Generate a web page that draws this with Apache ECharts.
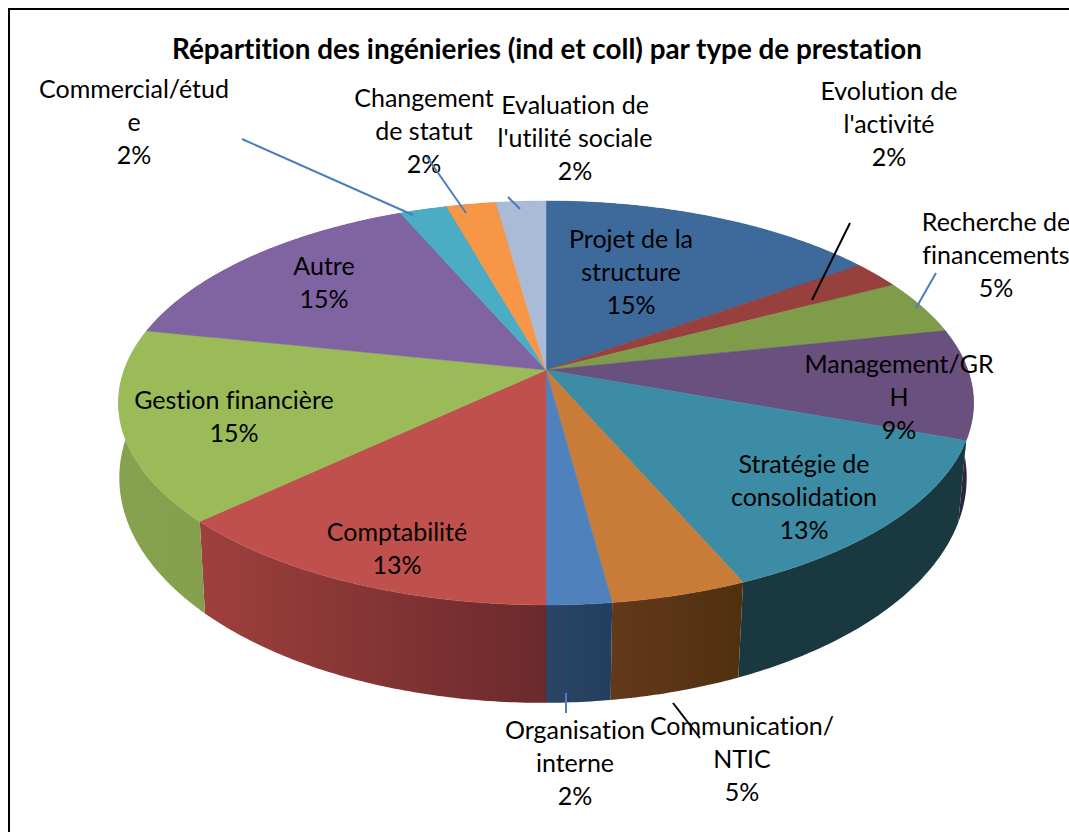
<!DOCTYPE html>
<html>
<head>
<meta charset="utf-8">
<title>Répartition des ingénieries</title>
<script src="https://cdn.jsdelivr.net/npm/echarts@6/dist/echarts.min.js"></script>
<style>
html, body { margin: 0; padding: 0; background: #fff; }
#chart { width: 1069px; height: 832px; }
#chart text { font-variant-ligatures: none; }
</style>
</head>
<body>
<div id="chart"></div>
<script>
const chartTitle = 'Répartition des ingénieries (ind et coll) par type de prestation'
// clockwise from 12 o'clock
const categories = ['Projet de la\nstructure', "Evolution de\nl'activité", 'Recherche de\nfinancements', 'Management/GR\nH', 'Stratégie de\nconsolidation', 'Communication/\nNTIC', 'Organisation\ninterne', 'Comptabilité', 'Gestion financière', 'Autre', 'Commercial/étud\ne', 'Changement\nde statut', "Evaluation de\nl'utilité sociale"]
const sliceValues = [15.1, 2.2, 4.4, 8.8, 13, 4.4, 2.1, 13, 15.3, 15.2, 2.1, 2.2, 2.2]
const percentLabels = ['15%', '2%', '5%', '9%', '13%', '5%', '2%', '13%', '15%', '15%', '2%', '2%', '2%']

const topColors = ['#3d6a9b', '#97403d', '#7f9c4b', '#69507f', '#3c8ca5', '#c97b38', '#4f81bd', '#c0504d', '#9bbb59', '#8064a2', '#4bacc6', '#f79646', '#a9bbd7']
const wallColors = [
    ['#2a4565', '#2a4565'], ['#632a28', '#632a28'], ['#556832', '#556832'], ['#2e2440', '#2e2440'],
    ['#193840', '#193840'], ['#63391a', '#50300f'], ['#2a4565', '#243e5e'], ['#9e403d', '#6b2a2c'],
    ['#86a24e', '#84a04c'], ['#55436c', '#55436c'], ['#327285', '#327285'], ['#a5642e', '#a5642e'], ['#70798f', '#70798f']
]

// label centres and leader lines, same order as categories
const labelAnchors = [[631, 271], [889, 123], [996, 254], [899, 396], [804, 496], [742, 758], [575, 762], [397, 547], [234, 415], [324, 281], [134, 121], [424, 130], [575, 137]]
const leaders = [
    null,
    { from: [850, 223], to: [812, 300], color: '#000' },
    { from: [936, 273], to: [916, 308], color: '#4a7ebb' },
    null, null,
    { from: [673, 703], to: [700, 738], color: '#000' },
    { from: [566, 693], to: [566, 713], color: '#4a7ebb' },
    null, null, null,
    { from: [242, 139], to: [413, 215], color: '#4a7ebb' },
    { from: [427, 157], to: [466, 213], color: '#4a7ebb' },
    { from: [508, 197], to: [520, 209], color: '#4a7ebb' }
]

const total = sliceValues.reduce((a, b) => a + b, 0)
const starts = []
sliceValues.reduce((acc, v, i) => { starts[i] = acc; return acc + v }, 0)

// tilted disc seen in perspective, top face and bottom face
const tilt = 0.1634
const topFace = { cx: 546, a: 370, b: 136.1, r: 421.8, skew: 0 }
// skew leans the wall seams a little, as the 3d view of the original does
const bottomFace = { cx: 543, a: 441, b: 147, r: 418, skew: 0.0146 }

const project = (face, share) => {
    const t0 = share / total * Math.PI * 2
    const t = t0 - face.skew * (t0 - 2.73)
    const X = Math.sin(t)
    const Y = -Math.cos(t)
    const d = 1 - tilt * Y
    return [face.cx + face.r * X / d, (face.a + face.b * Y) / d]
}

const arc = (face, i) => {
    const n = Math.ceil(sliceValues[i] * 6)
    const pts = []
    for (let k = 0; k <= n; k++) pts.push(project(face, starts[i] + sliceValues[i] * k / n))
    return pts
}

const renderWall = (params) => {
    const i = params.dataIndex
    const points = arc(topFace, i).concat(arc(bottomFace, i).reverse())
    return {
        type: 'polygon',
        shape: { points },
        style: {
            fill: {
                type: 'linear', x: 0, y: 0, x2: 1, y2: 0,
                colorStops: [{ offset: 0, color: wallColors[i][0] }, { offset: 1, color: wallColors[i][1] }]
            }
        }
    }
}

const renderTop = (params) => {
    const i = params.dataIndex
    return {
        type: 'polygon',
        shape: { points: [[topFace.cx, topFace.a]].concat(arc(topFace, i)) },
        style: { fill: topColors[i], stroke: topColors[i], lineWidth: 0.5 }
    }
}

const renderLabel = (params) => {
    const i = params.dataIndex
    const children = [{
        type: 'text',
        style: {
            text: categories[i] + '\n' + percentLabels[i],
            x: labelAnchors[i][0],
            y: labelAnchors[i][1],
            align: 'center',
            verticalAlign: 'middle',
            fill: '#000',
            fontFamily: 'Lato',
            fontSize: 25,
            lineHeight: 33
        }
    }]
    if (leaders[i]) {
        children.push({
            type: 'line',
            shape: { x1: leaders[i].from[0], y1: leaders[i].from[1], x2: leaders[i].to[0], y2: leaders[i].to[1] },
            style: { stroke: leaders[i].color, lineWidth: 2 }
        })
    }
    return { type: 'group', children }
}

const chart = echarts.init(document.getElementById('chart'), null, { renderer: 'svg' })
const rows = sliceValues.map((v, i) => [i, v])

chart.setOption({
    animation: false,
    backgroundColor: '#fff',
    title: {
        text: chartTitle,
        left: 542,
        top: 43,
        textAlign: 'center',
        textVerticalAlign: 'middle',
        textStyle: { fontFamily: 'Lato', fontWeight: 'bold', fontSize: 27.8, color: '#000' }
    },
    graphic: [
        { type: 'line', shape: { x1: 9, y1: 8, x2: 9, y2: 832 }, style: { stroke: '#000', lineWidth: 2 } },
        { type: 'line', shape: { x1: 8, y1: 9, x2: 1069, y2: 9 }, style: { stroke: '#000', lineWidth: 2 } }
    ],
    series: [
        { type: 'custom', name: 'walls', coordinateSystem: 'none', silent: true, z: 1, data: rows, renderItem: renderWall },
        { type: 'custom', name: 'tops', coordinateSystem: 'none', silent: true, z: 2, data: rows, renderItem: renderTop },
        { type: 'custom', name: 'labels', coordinateSystem: 'none', silent: true, z: 3, data: rows, renderItem: renderLabel }
    ]
})

window.addEventListener('resize', () => chart.resize())
</script>
</body>
</html>
